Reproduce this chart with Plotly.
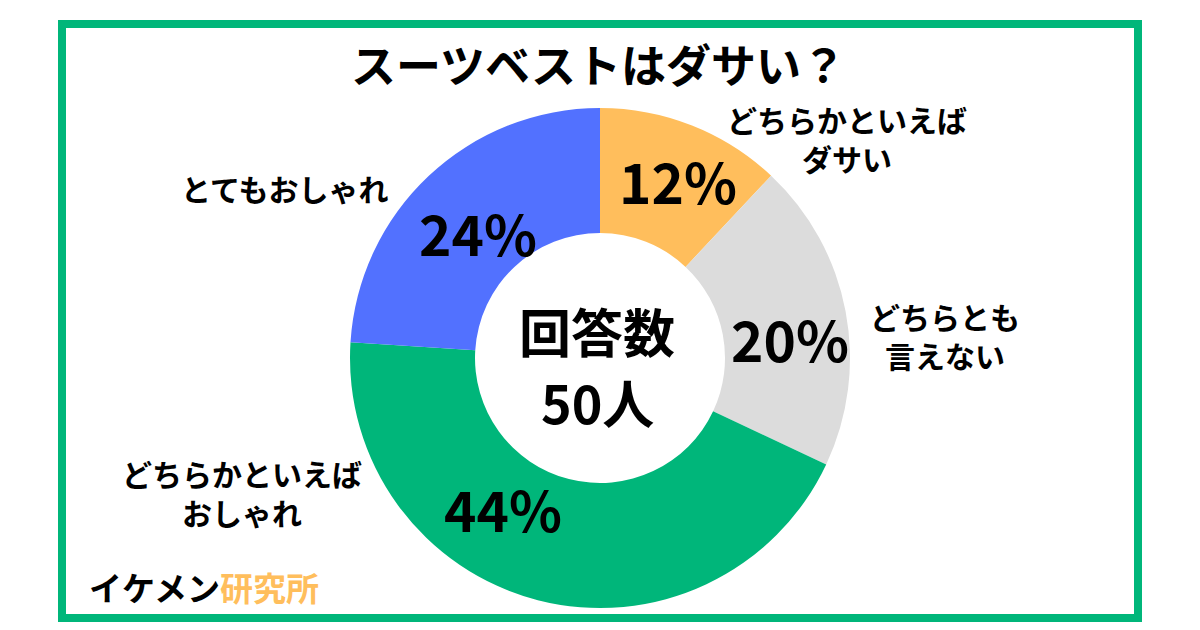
import plotly.graph_objects as go

categories = ["どちらかといえば<br>ダサい", "どちらとも<br>言えない", "どちらかといえば<br>おしゃれ", "とてもおしゃれ"]
values = [12, 20, 44, 24]
colors = ["#FFBE5C", "#DCDCDC", "#00B67A", "#5271FF"]
label_pos = [(847, 138), (945, 335), (242, 492), (285, 188)]
pct_pos = [(678, 180), (790, 338), (503, 508), (478, 232)]

F = "Noto Sans CJK JP"
W, H = 1200, 630
fig = go.Figure(go.Pie(
    labels=categories, values=values, hole=0.5, sort=False, direction="clockwise",
    rotation=0, marker=dict(colors=colors, line=dict(color="white", width=0)),
    textinfo="none", showlegend=False, hoverinfo="skip",
    domain=dict(x=[350/W, 850/W], y=[(H-608)/H, (H-108)/H]),
))
ann = [
    dict(x=598/W, y=1-64/H, text="<b>スーツベストはダサい？</b>", font=dict(size=45)),
    dict(x=597/W, y=1-330/H, text="<b>回答数</b>", font=dict(size=52)),
    dict(x=597/W, y=1-402/H, text="<b>50人</b>", font=dict(size=52)),
    dict(x=204/W, y=1-587/H, text="<b>イケメン<span style='color:#FFBE5C'>研究所</span></b>", font=dict(size=33)),
]
for c, (x, y) in zip(categories, label_pos):
    ann.append(dict(x=x/W, y=1-y/H, text="<b>" + c + "</b>", font=dict(size=30)))
for v, (x, y) in zip(values, pct_pos):
    ann.append(dict(x=x/W, y=1-y/H, text=f"<b>{v}%</b>", font=dict(size=55)))
for a in ann:
    a.update(xref="paper", yref="paper", showarrow=False, xanchor="center", yanchor="middle")
    a["font"].update(family=F, color="black")
fig.update_layout(
    width=W, height=H, margin=dict(l=0, r=0, t=0, b=0),
    paper_bgcolor="white", plot_bgcolor="white", annotations=ann,
    shapes=[dict(type="rect", xref="paper", yref="paper", x0=62/W, x1=1138/W, y0=1-618/H, y1=1-24/H,
                 line=dict(color="#00B67A", width=8))],
)
fig.write_html("out.html", config={"displayModeBar": False})
with open("out.html", encoding="utf-8") as f:
    html = f.read()
html = html.replace("<body>", "<body style='margin:0;overflow:hidden'>", 1)
with open("out.html", "w", encoding="utf-8") as f:
    f.write(html)
